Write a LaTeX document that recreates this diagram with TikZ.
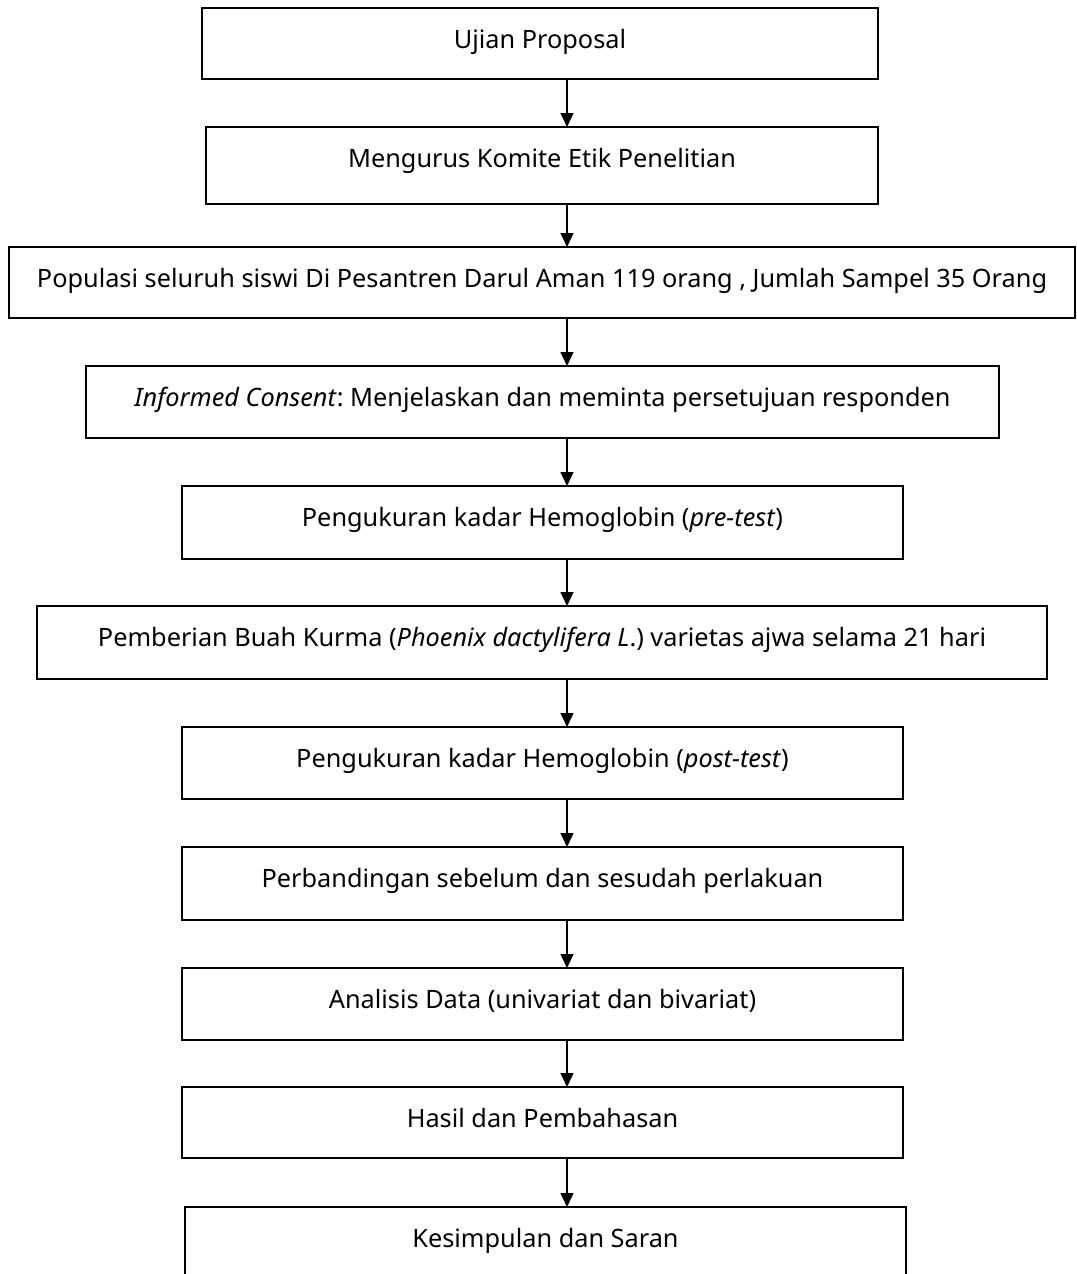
\documentclass[tikz,border=0pt]{standalone}
\usepackage{fontspec}
\setmainfont{Noto Sans}
\frenchspacing
\usetikzlibrary{arrows.meta}
\begin{document}
\begin{tikzpicture}[x=1pt,y=-1pt,
  box/.style={draw=black,line width=2.5pt,inner sep=0pt,outer sep=0pt,rectangle},
  lbl/.style={anchor=base,inner sep=0pt,font=\fontsize{25.3}{30}\selectfont},
  arr/.style={line width=1.3pt,-{Triangle[length=14pt,width=13pt]}}]
\useasboundingbox (0,0) rectangle (1076,1274);
\clip (0,0) rectangle (1076,1274);
\coordinate (ax) at (567,0);
% boxes
\node[box,minimum width=676pt,minimum height=71pt] (b1) at (540,43.5) {};
\node[box,minimum width=672pt,minimum height=77pt] (b2) at (542,165.5) {};
\node[box,minimum width=1066pt,minimum height=71pt] (b3) at (542,282.5) {};
\node[box,minimum width=913pt,minimum height=72pt] (b4) at (542.5,402) {};
\node[box,minimum width=721pt,minimum height=73pt] (b5) at (542.5,522.5) {};
\node[box,minimum width=1010pt,minimum height=73pt] (b6) at (542,642.5) {};
\node[box,minimum width=721pt,minimum height=72pt] (b7) at (542.5,763) {};
\node[box,minimum width=721pt,minimum height=73pt] (b8) at (542.5,883.5) {};
\node[box,minimum width=721pt,minimum height=72pt] (b9) at (542.5,1004) {};
\node[box,minimum width=721pt,minimum height=71pt] (b10) at (542.5,1122.5) {};
\node[box,minimum width=721pt,minimum height=83pt] (b11) at (545.5,1248.5) {};
% labels
\node[lbl] (t1) at ([yshift=-40pt]b1.north) {Ujian Proposal};
\node[lbl] (t2) at ([yshift=-40pt]b2.north) {Mengurus Komite Etik Penelitian};
\node[lbl] (t3) at ([yshift=-40pt]b3.north) {Populasi seluruh siswi Di Pesantren Darul Aman 119 orang , Jumlah Sampel 35 Orang};
\node[lbl] (t4) at ([yshift=-40pt]b4.north) {\textit{Informed Consent}: Menjelaskan dan meminta persetujuan responden};
\node[lbl] (t5) at ([yshift=-40pt]b5.north) {Pengukuran kadar Hemoglobin (\textit{pre-test})};
\node[lbl] (t6) at ([yshift=-40pt]b6.north) {Pemberian Buah Kurma (\textit{Phoenix dactylifera L}.) varietas ajwa selama 21 hari};
\node[lbl] (t7) at ([yshift=-40pt]b7.north) {Pengukuran kadar Hemoglobin (\textit{post-test})};
\node[lbl] (t8) at ([yshift=-40pt]b8.north) {Perbandingan sebelum dan sesudah perlakuan};
\node[lbl] (t9) at ([yshift=-40pt]b9.north) {Analisis Data (univariat dan bivariat)};
\node[lbl] (t10) at ([yshift=-40pt]b10.north) {Hasil dan Pembahasan};
\node[lbl] (t11) at ([yshift=-40pt]b11.north) {Kesimpulan dan Saran};
% arrows
\draw[arr] (b1.south -| ax) -- (b2.north -| ax);
\draw[arr] (b2.south -| ax) -- (b3.north -| ax);
\draw[arr] (b3.south -| ax) -- (b4.north -| ax);
\draw[arr] (b4.south -| ax) -- (b5.north -| ax);
\draw[arr] (b5.south -| ax) -- (b6.north -| ax);
\draw[arr] (b6.south -| ax) -- (b7.north -| ax);
\draw[arr] (b7.south -| ax) -- (b8.north -| ax);
\draw[arr] (b8.south -| ax) -- (b9.north -| ax);
\draw[arr] (b9.south -| ax) -- (b10.north -| ax);
\draw[arr] (b10.south -| ax) -- (b11.north -| ax);
\end{tikzpicture}
\end{document}
